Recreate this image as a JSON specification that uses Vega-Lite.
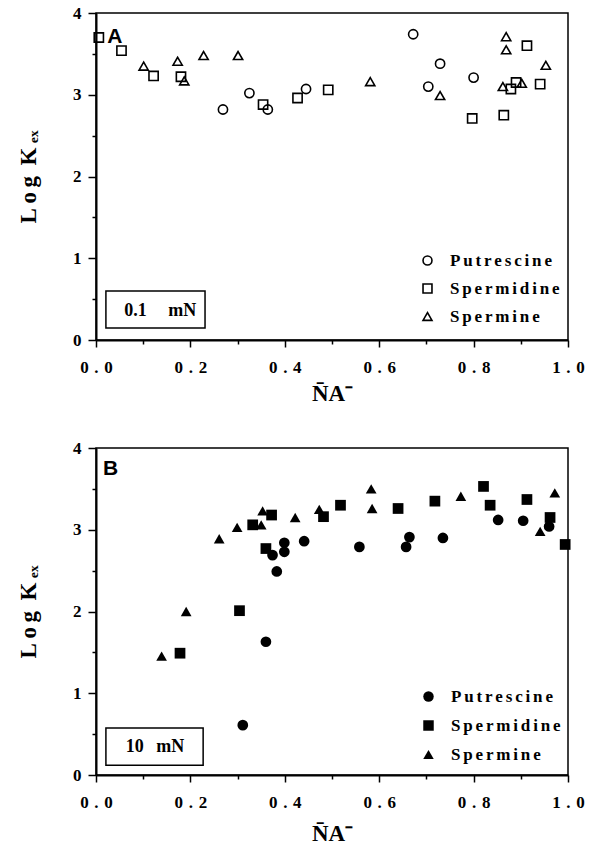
{
  "$schema": "https://vega.github.io/schema/vega-lite/v6.json",
  "background": "white",
  "padding": {"left": 16, "top": 3, "right": 6, "bottom": 2},
  "spacing": 32,
  "config": {
    "font": "Liberation Serif",
    "view": {"stroke": "black", "strokeWidth": 1.5},
    "axis": {
      "grid": false,
      "domainColor": "black",
      "domainWidth": 2,
      "tickColor": "black",
      "tickWidth": 1.5,
      "labelColor": "black",
      "labelFont": "Liberation Serif",
      "labelFontWeight": "bold",
      "titleColor": "black",
      "titleFont": "Liberation Serif",
      "titleFontWeight": "bold",
      "titleFontSize": 23
    },
    "legend": {
      "orient": "none",
      "title": null,
      "padding": 0,
      "labelFont": "Liberation Serif",
      "labelFontSize": 17,
      "labelFontWeight": "bold",
      "labelColor": "black",
      "labelOffset": 14,
      "rowPadding": 10,
      "symbolSize": 80,
      "symbolStrokeColor": "black",
      "symbolStrokeWidth": 1.6
    }
  },
  "datasets": {
    "uptake": [
      {"panel": "A", "polyamine": "Putrescine", "x": 0.269, "logK": 2.82},
      {"panel": "A", "polyamine": "Putrescine", "x": 0.325, "logK": 3.02},
      {"panel": "A", "polyamine": "Putrescine", "x": 0.364, "logK": 2.82},
      {"panel": "A", "polyamine": "Putrescine", "x": 0.445, "logK": 3.07},
      {"panel": "A", "polyamine": "Putrescine", "x": 0.672, "logK": 3.74},
      {"panel": "A", "polyamine": "Putrescine", "x": 0.729, "logK": 3.38},
      {"panel": "A", "polyamine": "Putrescine", "x": 0.704, "logK": 3.10},
      {"panel": "A", "polyamine": "Putrescine", "x": 0.800, "logK": 3.21},
      {"panel": "A", "polyamine": "Spermidine", "x": 0.006, "logK": 3.70},
      {"panel": "A", "polyamine": "Spermidine", "x": 0.054, "logK": 3.54},
      {"panel": "A", "polyamine": "Spermidine", "x": 0.122, "logK": 3.23},
      {"panel": "A", "polyamine": "Spermidine", "x": 0.180, "logK": 3.22},
      {"panel": "A", "polyamine": "Spermidine", "x": 0.354, "logK": 2.88},
      {"panel": "A", "polyamine": "Spermidine", "x": 0.427, "logK": 2.96},
      {"panel": "A", "polyamine": "Spermidine", "x": 0.492, "logK": 3.06},
      {"panel": "A", "polyamine": "Spermidine", "x": 0.797, "logK": 2.71},
      {"panel": "A", "polyamine": "Spermidine", "x": 0.913, "logK": 3.60},
      {"panel": "A", "polyamine": "Spermidine", "x": 0.879, "logK": 3.07},
      {"panel": "A", "polyamine": "Spermidine", "x": 0.890, "logK": 3.15},
      {"panel": "A", "polyamine": "Spermidine", "x": 0.941, "logK": 3.13},
      {"panel": "A", "polyamine": "Spermidine", "x": 0.864, "logK": 2.75},
      {"panel": "A", "polyamine": "Spermine", "x": 0.101, "logK": 3.35},
      {"panel": "A", "polyamine": "Spermine", "x": 0.173, "logK": 3.41},
      {"panel": "A", "polyamine": "Spermine", "x": 0.187, "logK": 3.17},
      {"panel": "A", "polyamine": "Spermine", "x": 0.228, "logK": 3.48},
      {"panel": "A", "polyamine": "Spermine", "x": 0.301, "logK": 3.48},
      {"panel": "A", "polyamine": "Spermine", "x": 0.581, "logK": 3.16},
      {"panel": "A", "polyamine": "Spermine", "x": 0.729, "logK": 2.99},
      {"panel": "A", "polyamine": "Spermine", "x": 0.869, "logK": 3.71},
      {"panel": "A", "polyamine": "Spermine", "x": 0.869, "logK": 3.55},
      {"panel": "A", "polyamine": "Spermine", "x": 0.953, "logK": 3.36},
      {"panel": "A", "polyamine": "Spermine", "x": 0.862, "logK": 3.10},
      {"panel": "A", "polyamine": "Spermine", "x": 0.902, "logK": 3.14},
      {"panel": "B", "polyamine": "Putrescine", "x": 0.311, "logK": 0.61},
      {"panel": "B", "polyamine": "Putrescine", "x": 0.360, "logK": 1.63},
      {"panel": "B", "polyamine": "Putrescine", "x": 0.374, "logK": 2.69},
      {"panel": "B", "polyamine": "Putrescine", "x": 0.399, "logK": 2.84},
      {"panel": "B", "polyamine": "Putrescine", "x": 0.399, "logK": 2.73},
      {"panel": "B", "polyamine": "Putrescine", "x": 0.383, "logK": 2.49},
      {"panel": "B", "polyamine": "Putrescine", "x": 0.441, "logK": 2.86},
      {"panel": "B", "polyamine": "Putrescine", "x": 0.558, "logK": 2.79},
      {"panel": "B", "polyamine": "Putrescine", "x": 0.664, "logK": 2.91},
      {"panel": "B", "polyamine": "Putrescine", "x": 0.657, "logK": 2.79},
      {"panel": "B", "polyamine": "Putrescine", "x": 0.735, "logK": 2.90},
      {"panel": "B", "polyamine": "Putrescine", "x": 0.852, "logK": 3.12},
      {"panel": "B", "polyamine": "Putrescine", "x": 0.905, "logK": 3.11},
      {"panel": "B", "polyamine": "Putrescine", "x": 0.960, "logK": 3.04},
      {"panel": "B", "polyamine": "Spermidine", "x": 0.178, "logK": 1.49},
      {"panel": "B", "polyamine": "Spermidine", "x": 0.304, "logK": 2.01},
      {"panel": "B", "polyamine": "Spermidine", "x": 0.332, "logK": 3.06},
      {"panel": "B", "polyamine": "Spermidine", "x": 0.372, "logK": 3.18},
      {"panel": "B", "polyamine": "Spermidine", "x": 0.360, "logK": 2.77},
      {"panel": "B", "polyamine": "Spermidine", "x": 0.482, "logK": 3.16},
      {"panel": "B", "polyamine": "Spermidine", "x": 0.518, "logK": 3.30},
      {"panel": "B", "polyamine": "Spermidine", "x": 0.640, "logK": 3.26},
      {"panel": "B", "polyamine": "Spermidine", "x": 0.718, "logK": 3.35},
      {"panel": "B", "polyamine": "Spermidine", "x": 0.821, "logK": 3.53},
      {"panel": "B", "polyamine": "Spermidine", "x": 0.835, "logK": 3.30},
      {"panel": "B", "polyamine": "Spermidine", "x": 0.913, "logK": 3.37},
      {"panel": "B", "polyamine": "Spermidine", "x": 0.962, "logK": 3.15},
      {"panel": "B", "polyamine": "Spermidine", "x": 0.994, "logK": 2.82},
      {"panel": "B", "polyamine": "Spermine", "x": 0.139, "logK": 1.455},
      {"panel": "B", "polyamine": "Spermine", "x": 0.191, "logK": 2.00},
      {"panel": "B", "polyamine": "Spermine", "x": 0.261, "logK": 2.89},
      {"panel": "B", "polyamine": "Spermine", "x": 0.299, "logK": 3.03},
      {"panel": "B", "polyamine": "Spermine", "x": 0.350, "logK": 3.06},
      {"panel": "B", "polyamine": "Spermine", "x": 0.353, "logK": 3.23},
      {"panel": "B", "polyamine": "Spermine", "x": 0.422, "logK": 3.15},
      {"panel": "B", "polyamine": "Spermine", "x": 0.473, "logK": 3.25},
      {"panel": "B", "polyamine": "Spermine", "x": 0.583, "logK": 3.50},
      {"panel": "B", "polyamine": "Spermine", "x": 0.585, "logK": 3.26},
      {"panel": "B", "polyamine": "Spermine", "x": 0.773, "logK": 3.41},
      {"panel": "B", "polyamine": "Spermine", "x": 0.972, "logK": 3.45},
      {"panel": "B", "polyamine": "Spermine", "x": 0.941, "logK": 2.98}
    ]
  },
  "resolve": {"scale": {"shape": "independent"}, "legend": {"shape": "independent"}},
  "vconcat": [
    {
      "width": 472,
      "height": 327,
      "layer": [
        {
          "data": {"name": "uptake"},
          "transform": [{"filter": "datum.panel == 'A'"}],
          "mark": {"type": "point", "filled": false, "size": 85, "strokeWidth": 1.6, "color": "black", "opacity": 1},
          "encoding": {
            "x": {
              "field": "x", "type": "quantitative",
              "scale": {"domain": [0, 1], "nice": false},
              "axis": {
                "title": "N̄A⁻",
                "values": [0, 0.1, 0.2, 0.3, 0.4, 0.5, 0.6, 0.7, 0.8, 0.9, 1],
                "labelExpr": "round(datum.value*10) % 2 == 0 ? replace(format(datum.value, '.1f'), '.', '\u2004.\u2004') : ''",
                "labelFlush": false,
                "labelOverlap": false,
                "labelFontSize": 17,
                "labelPadding": 12,
                "tickSize": {"condition": {"test": "round(datum.value*10) % 2 == 0", "value": 7}, "value": 4},
                "titlePadding": 7
              }
            },
            "y": {
              "field": "logK", "type": "quantitative",
              "scale": {"domain": [0, 4], "nice": false},
              "axis": {
                "title": "L\u2009o\u2009g\u2009 K\u2009ₑₓ",
                "values": [0, 0.5, 1, 1.5, 2, 2.5, 3, 3.5, 4],
                "labelExpr": "datum.value % 1 == 0 ? format(datum.value, 'd') : ''",
                "labelOverlap": false,
                "labelFontSize": 17,
                "labelPadding": 7,
                "tickSize": {"condition": {"test": "datum.value % 1 == 0", "value": 8}, "value": 4},
                "titlePadding": 32
              }
            },
            "shape": {
              "field": "polyamine", "type": "nominal",
              "scale": {"domain": ["Putrescine", "Spermidine", "Spermine"], "range": ["circle", "square", "triangle-up"]},
              "legend": {"legendX": 323, "legendY": 239, "rowPadding": 10, "labelExpr": "join(split(datum.label, ''), '\u2006')"}
            }
          }
        },
        {
          "data": {"values": [{"label": "0.1\u2003\u2009mN"}]},
          "mark": {"type": "rect", "fill": "white", "stroke": "black", "strokeWidth": 1.5},
          "encoding": {"x": {"datum": 0.021}, "x2": {"datum": 0.231}, "y": {"datum": 0.147}, "y2": {"datum": 0.6}}
        },
        {
          "data": {"values": [{"label": "0.1\u2003\u2009mN"}]},
          "mark": {"type": "text", "font": "Liberation Serif", "fontWeight": "bold", "fontSize": 18, "color": "black", "align": "center", "baseline": "middle"},
          "encoding": {"x": {"datum": 0.136}, "y": {"datum": 0.36}, "text": {"field": "label"}}
        },
        {
          "data": {"values": [{"label": "A"}]},
          "mark": {"type": "text", "font": "Liberation Sans", "fontWeight": "bold", "fontSize": 21, "color": "black", "align": "left", "baseline": "alphabetic"},
          "encoding": {"x": {"datum": 0.024}, "y": {"datum": 3.63}, "text": {"field": "label"}}
        }
      ]
    },
    {
      "width": 472,
      "height": 327,
      "layer": [
        {
          "data": {"name": "uptake"},
          "transform": [{"filter": "datum.panel == 'B'"}],
          "mark": {"type": "point", "filled": true, "size": 115, "color": "black", "opacity": 1},
          "encoding": {
            "x": {
              "field": "x", "type": "quantitative",
              "scale": {"domain": [0, 1], "nice": false},
              "axis": {
                "title": "N̄A⁻",
                "values": [0, 0.1, 0.2, 0.3, 0.4, 0.5, 0.6, 0.7, 0.8, 0.9, 1],
                "labelExpr": "round(datum.value*10) % 2 == 0 ? replace(format(datum.value, '.1f'), '.', '\u2004.\u2004') : ''",
                "labelFlush": false,
                "labelOverlap": false,
                "labelFontSize": 17,
                "labelPadding": 12,
                "tickSize": {"condition": {"test": "round(datum.value*10) % 2 == 0", "value": 7}, "value": 4},
                "titlePadding": 12
              }
            },
            "y": {
              "field": "logK", "type": "quantitative",
              "scale": {"domain": [0, 4], "nice": false},
              "axis": {
                "title": "L\u2009o\u2009g\u2009 K\u2009ₑₓ",
                "values": [0, 0.5, 1, 1.5, 2, 2.5, 3, 3.5, 4],
                "labelExpr": "datum.value % 1 == 0 ? format(datum.value, 'd') : ''",
                "labelOverlap": false,
                "labelFontSize": 17,
                "labelPadding": 7,
                "tickSize": {"condition": {"test": "datum.value % 1 == 0", "value": 8}, "value": 4},
                "titlePadding": 32
              }
            },
            "shape": {
              "field": "polyamine", "type": "nominal",
              "scale": {"domain": ["Putrescine", "Spermidine", "Spermine"], "range": ["circle", "square", "triangle-up"]},
              "legend": {"legendX": 324, "legendY": 240, "rowPadding": 11, "symbolFillColor": "black", "symbolSize": 110, "labelExpr": "join(split(datum.label, ''), '\u2006')"}
            }
          }
        },
        {
          "data": {"values": [{"label": "10\u2002\u2009mN"}]},
          "mark": {"type": "rect", "fill": "white", "stroke": "black", "strokeWidth": 1.5},
          "encoding": {"x": {"datum": 0.021}, "x2": {"datum": 0.227}, "y": {"datum": 0.12}, "y2": {"datum": 0.575}}
        },
        {
          "data": {"values": [{"label": "10\u2002\u2009mN"}]},
          "mark": {"type": "text", "font": "Liberation Serif", "fontWeight": "bold", "fontSize": 18, "color": "black", "align": "center", "baseline": "middle"},
          "encoding": {"x": {"datum": 0.125}, "y": {"datum": 0.34}, "text": {"field": "label"}}
        },
        {
          "data": {"values": [{"label": "B"}]},
          "mark": {"type": "text", "font": "Liberation Sans", "fontWeight": "bold", "fontSize": 21, "color": "black", "align": "left", "baseline": "alphabetic"},
          "encoding": {"x": {"datum": 0.015}, "y": {"datum": 3.67}, "text": {"field": "label"}}
        }
      ]
    }
  ]
}
